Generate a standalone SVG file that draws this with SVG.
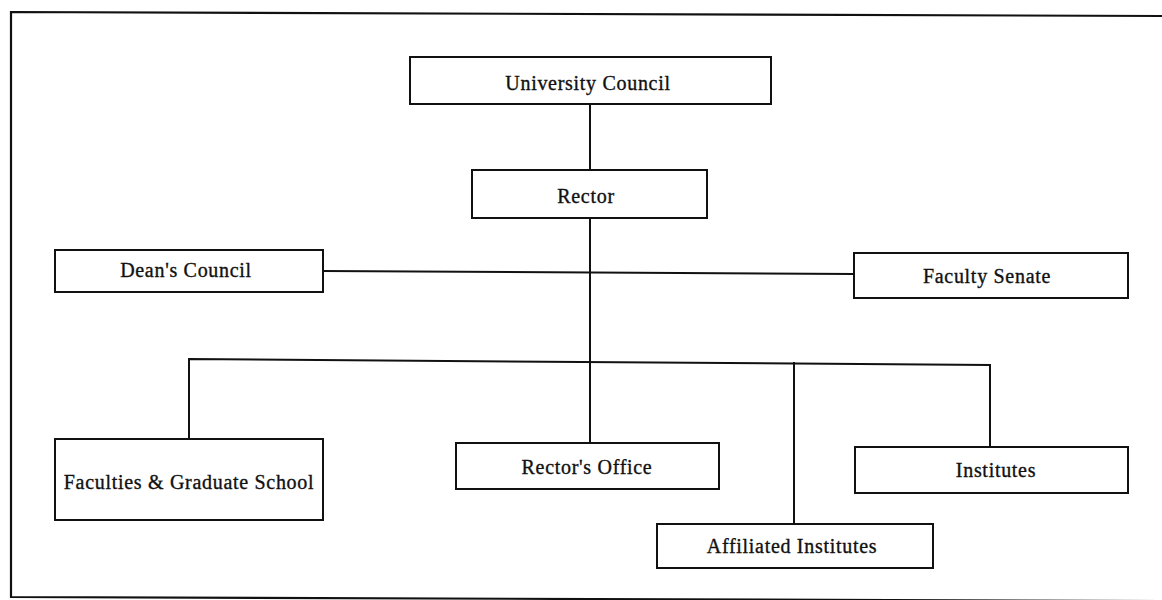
<svg xmlns="http://www.w3.org/2000/svg" width="1162" height="600" viewBox="0 0 1162 600">
  <style>
    .box { fill: #ffffff; stroke: #111111; stroke-width: 2; }
    .lbl { font-family: "Liberation Serif", "Times New Roman", serif; font-size: 20px; letter-spacing: 0.7px; fill: #111111; stroke: #111111; stroke-width: 0.35; text-anchor: middle; }
    .wire { fill: none; stroke: #111111; stroke-width: 2; }
    .frame { fill: none; stroke: #111111; stroke-width: 2.2; }
  </style>
  <rect width="1162" height="600" fill="#ffffff"/>

  <!-- outer frame (open on the right) -->
  <path class="frame" d="M1162,16 L11,12 L11,597 L1162,601"/>

  <!-- connectors -->
  <g id="connectors">
    <line class="wire" x1="590" y1="104" x2="590" y2="170"/>
    <line class="wire" x1="590" y1="218" x2="590" y2="443"/>
    <line class="wire" x1="323" y1="271" x2="854" y2="274"/>
    <polyline class="wire" points="189,439 189,359 990,365 990,447"/>
    <line class="wire" x1="794" y1="362" x2="794" y2="524"/>
  </g>

  <g id="university-council">
    <rect class="box" x="410" y="57" width="361" height="47"/>
    <text class="lbl" x="588" y="90">University Council</text>
  </g>

  <g id="rector">
    <rect class="box" x="472" y="170" width="235" height="48"/>
    <text class="lbl" x="586" y="203">Rector</text>
  </g>

  <g id="deans-council">
    <rect class="box" x="55" y="250" width="268" height="42"/>
    <text class="lbl" x="186" y="277">Dean's Council</text>
  </g>

  <g id="faculty-senate">
    <rect class="box" x="854" y="253" width="274" height="45"/>
    <text class="lbl" x="987" y="283">Faculty Senate</text>
  </g>

  <g id="faculties-graduate-school">
    <rect class="box" x="55" y="439" width="268" height="81"/>
    <text class="lbl" x="189" y="489">Faculties &amp; Graduate School</text>
  </g>

  <g id="rectors-office">
    <rect class="box" x="456" y="443" width="263" height="46"/>
    <text class="lbl" x="587" y="474">Rector's Office</text>
  </g>

  <g id="institutes">
    <rect class="box" x="855" y="447" width="273" height="46"/>
    <text class="lbl" x="996" y="477">Institutes</text>
  </g>

  <g id="affiliated-institutes">
    <rect class="box" x="657" y="524" width="276" height="44"/>
    <text class="lbl" x="792" y="553">Affiliated Institutes</text>
  </g>
</svg>
